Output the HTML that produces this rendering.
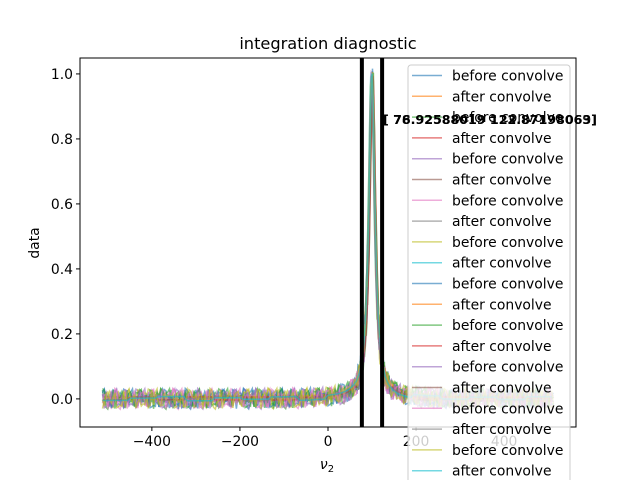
<!DOCTYPE html>
<html><head><meta charset="utf-8"><style>
body{margin:0;background:#fff}
svg{display:block;font-family:"DejaVu Sans","Liberation Sans",sans-serif}
</style></head><body>
<svg id="c" width="640" height="480" viewBox="0 0 640 480">
<rect width="640" height="480" fill="#fff"/>
<text x="328" y="49" font-size="16.2" text-anchor="middle">integration diagnostic</text>
<g id="plot"></g>
<rect x="80" y="58" width="496" height="369" fill="none" stroke="#000" stroke-width="1"/>
<g id="ticks"></g>
<text x="327" y="469" font-size="14" font-style="italic" text-anchor="middle">ν<tspan font-size="10" dy="3" font-style="normal">2</tspan></text>
<text transform="translate(39,243) rotate(-90)" font-size="13.9" text-anchor="middle">data</text>
<g id="legend"></g>
<g font-weight="bold" font-size="12.6">
<text x="383" y="124">[ 76.92588019 122.87198063]</text>
<text x="383" y="124" opacity="0.85">[ 78.92588019 123.87198069]</text>
</g>
</svg>
<script>
// model parameters: peak center, half width, height per pair
const peakCenter=[100,99,101,100,98,100,102,100,99,100];
const peakWidth=[8,8.5,7.5,8,8,9,8,7.5,8,8.5];
const peakHeight=[1.0,0.98,1.0,0.97,1.0,0.99,1.0,0.96,1.0,1.0];
const xRange=[-512,512];
const noise=[0.021,-0.018,0.009,-0.027,0.015,0.003,-0.012,0.026,-0.021,0.006,-0.004,0.019,-0.025,0.011,-0.008,0.023,-0.015,0.001,0.028,-0.019,0.013,-0.006,-0.023,0.017,0.004,-0.013,0.024,-0.028,0.008,0.016,-0.010,0.020,-0.002,-0.017,0.012,-0.024,0.027,-0.007,0.005,-0.020,0.018,-0.011,0.025,-0.003,0.010,-0.026,0.014,0.002,-0.016,0.022,-0.009,-0.021,0.007,0.019,-0.014,0.029,-0.005,0.012,-0.022,0.016,-0.001,-0.019,0.024,0.008,-0.026,0.011,0.020,-0.012,0.003,-0.024,0.017,-0.008,0.026,-0.016,0.005,0.013,-0.029,0.009,-0.003,0.022,-0.018,0.014,0.001,-0.011,0.027,-0.020,0.006,0.018,-0.025,0.010,-0.006,0.023,-0.014,0.002,0.016,-0.022,0.008,0.025,-0.010,-0.017,0.012];
const drift=[0.004,-0.003,0.006,-0.005,0.002,0.007,-0.006,0.003,-0.002,0.005,-0.007,0.004,0.001,-0.004,0.006,-0.003];
const labels=["before convolve","after convolve"];
const colors=["#1f77b4","#ff7f0e","#2ca02c","#d62728","#9467bd","#8c564b","#e377c2","#7f7f7f","#bcbd22","#17becf"];
const xTicks=[-400,-200,0,200,400];
const yTicks=[0.0,0.2,0.4,0.6,0.8,1.0];
const bounds=[76.93,122.87];

const NS="http://www.w3.org/2000/svg";
const X0=80,X1=576,Y0=58,Y1=427,xmin=-563.2,xmax=563.2,ymin=-0.0865,ymax=1.049;
const sx=v=>X0+(v-xmin)/(xmax-xmin)*(X1-X0);
const sy=v=>Y1-(v-ymin)/(ymax-ymin)*(Y1-Y0);
function mk(t,a,p){const e=document.createElementNS(NS,t);for(const k in a)e.setAttribute(k,a[k]);p.appendChild(e);return e;}
const plot=document.getElementById('plot');
const nSeries=20;
function peak(x,p){const d=(x-peakCenter[p])/peakWidth[p];return peakHeight[p]/(1+d*d);}
for(let s=0;s<nSeries;s++){
  const pair=Math.floor(s/2)%peakCenter.length, before=s%2===0;
  let d="";let i=0;
  const step=before?4:8;
  for(let x=xRange[0];x<=xRange[1];x+=(Math.abs(x-100)<40?1:step),i++){
    let v=peak(x,pair);
    if(before){v+=noise[(i*7+s*13)%noise.length]*1.1;}
    else{v+=drift[(Math.floor((x-xRange[0])/64)+s)%drift.length];}
    d+=(i?"L":"M")+sx(x).toFixed(1)+","+sy(v).toFixed(1);
  }
  const p=mk('path',{d:d,fill:'none',stroke:colors[s%10],'stroke-width':1.5,'stroke-opacity':0.6},plot);
  
  
}
for(const b of bounds){
  const l=mk('line',{x1:sx(b),x2:sx(b),y1:Y0,y2:Y1,stroke:'#000','stroke-width':4},plot);
  
  
}
const tk=document.getElementById('ticks');
for(const t of xTicks){
  const x=sx(t);
  mk('line',{x1:x,x2:x,y1:Y1,y2:Y1+4,stroke:'#000'},tk);
  const e=mk('text',{x:x,y:Y1+19,'font-size':13.9,'text-anchor':'middle'},tk);
  e.textContent=(t<0?"\u2212"+(-t):t);
  
  
}
for(const t of yTicks){
  const y=sy(t);
  mk('line',{x1:X0-4,x2:X0,y1:y,y2:y,stroke:'#000'},tk);
  const e=mk('text',{x:X0-7,y:y+5,'font-size':13.9,'text-anchor':'end'},tk);
  e.textContent=t.toFixed(1);
  
  
}
const lg=document.getElementById('legend');
mk('rect',{x:408,y:65,width:162,height:430,rx:3,fill:'#fff','fill-opacity':0.8,stroke:'#ccc'},lg);
for(let s=0;s<nSeries;s++){
  const y=75.5+s*20.8;
  mk('line',{x1:412,x2:442,y1:y,y2:y,stroke:colors[s%10],'stroke-width':1.5,'stroke-opacity':0.6},lg);
  const e=mk('text',{x:452,y:y+5,'font-size':13.9},lg);
  e.textContent=labels[s%2];
  
  
}
</script>
</body></html>
